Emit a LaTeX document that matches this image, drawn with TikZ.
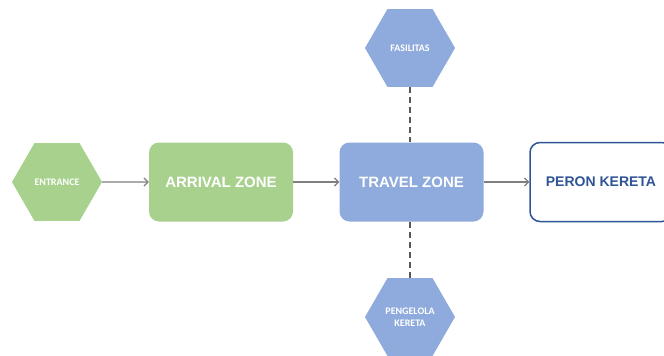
\documentclass[tikz,border=0pt]{standalone}
\usepackage{fontspec}
\setmainfont{Liberation Sans}
\newfontfamily\calib{Carlito}
\usetikzlibrary{shapes.geometric,arrows.meta}
\definecolor{zgreen}{HTML}{A9D18E}
\definecolor{zblue}{HTML}{8FAADC}
\definecolor{zdark}{HTML}{2F5597}
\definecolor{zgray}{HTML}{7F7F7F}
\definecolor{zdash}{HTML}{595959}
\tikzset{
  hexa/.style={regular polygon, regular polygon sides=6, minimum size=90pt, inner sep=0pt,
    draw=none, text=white, font=\calib\bfseries\fontsize{10}{12}\selectfont, align=center},
  zonebox/.style={rounded corners=10pt, minimum width=144pt, minimum height=79pt, inner sep=0pt,
    text=white, font=\bfseries\fontsize{15}{18}\selectfont},
  flow/.style={draw=zgray, line width=1.4pt, -{Straight Barb[length=4pt,width=8pt,line width=1.2pt]}},
  link/.style={draw=zdash, line width=2pt, dash pattern=on 6pt off 4pt}
}
\begin{document}
\begin{tikzpicture}[x=1pt,y=-1pt]
\useasboundingbox[fill=white] (0,0) rectangle (664,356);
\node[hexa, fill=zgreen] (ent) at (57,182) {ENTRANCE};
\node[zonebox, fill=zgreen] (arr) at (221,182) {ARRIVAL ZONE};
\node[zonebox, fill=zblue] (trv) at (411.5,182) {TRAVEL ZONE};
\node[zonebox, fill=white, draw=zdark, line width=1.5pt, minimum width=142pt, text=zdark,
  font=\bfseries\fontsize{14}{17}\selectfont] (per) at (601,182) {PERON KERETA};
\node[hexa, fill=zblue] (fas) at (410,48) {FASILITAS};
\node[hexa, fill=zblue] (pen) at (410,317) {PENGELOLA\\KERETA};
\draw[flow] (ent.east) -- (arr.west);
\draw[flow] (arr.east) -- (trv.west);
\draw[flow] (trv.east) -- (per.west);
\draw[link] (fas.south) -- (fas.south |- trv.north);
\draw[link] (pen.north) -- (pen.north |- trv.south);
\end{tikzpicture}
\end{document}
